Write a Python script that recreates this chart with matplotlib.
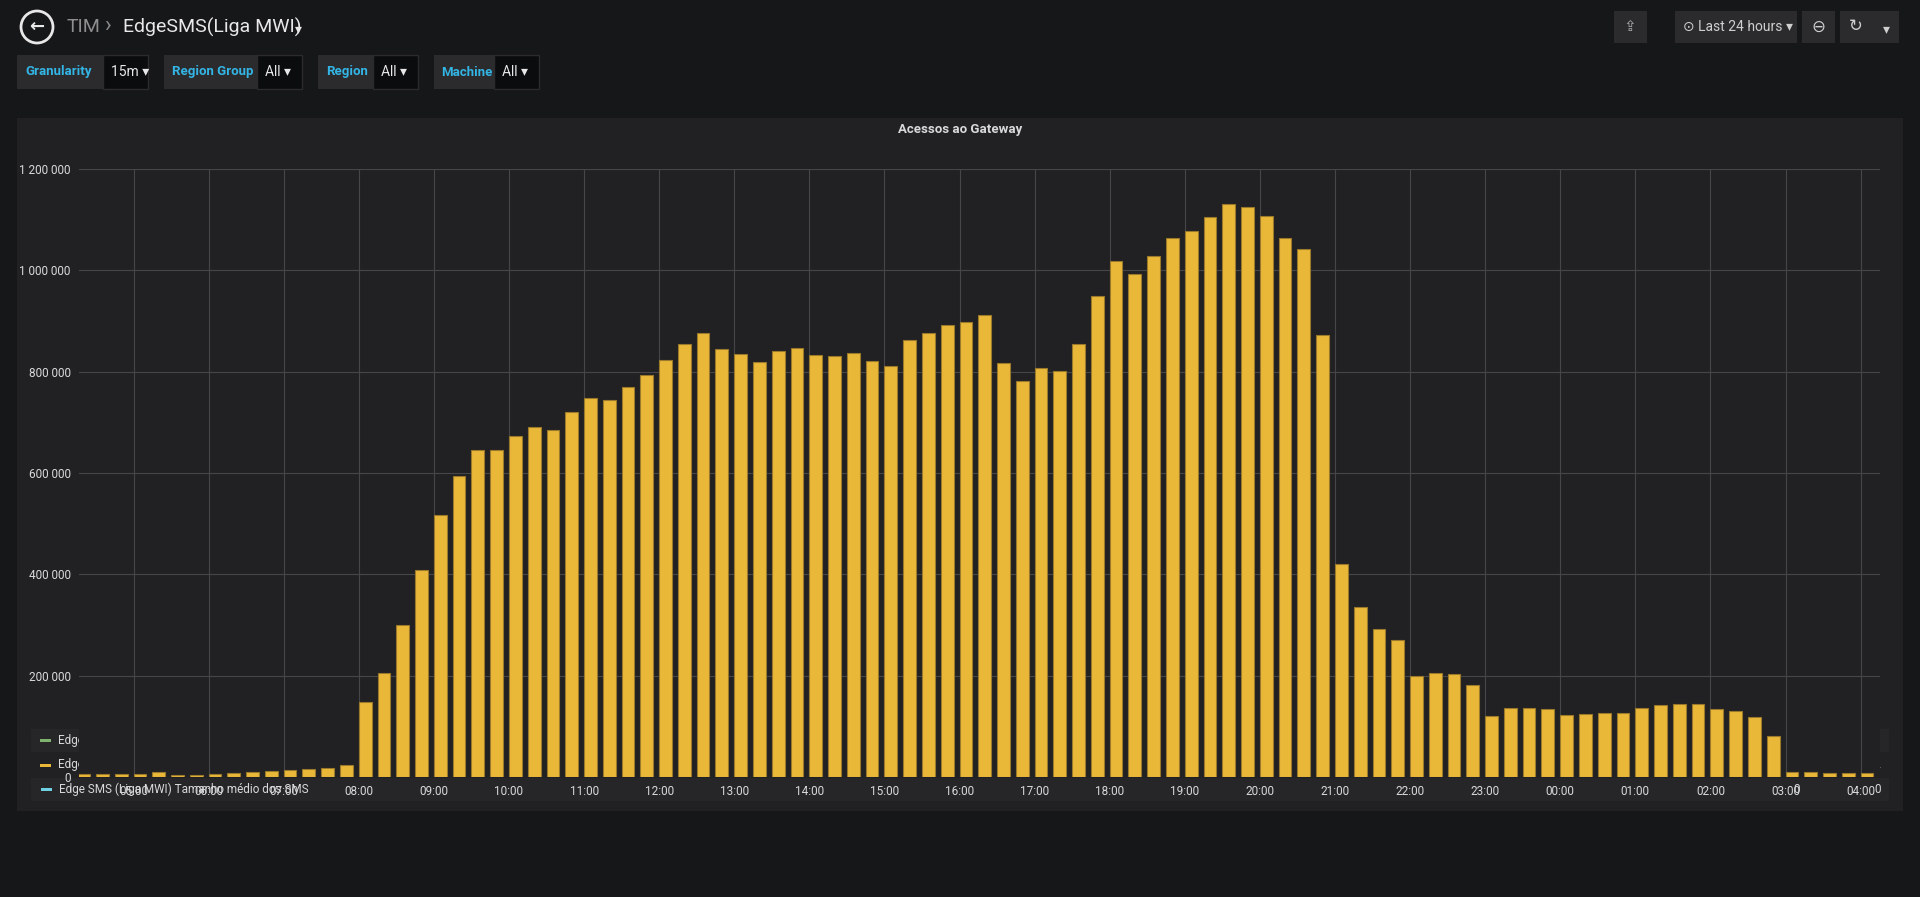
import matplotlib
matplotlib.use("Agg")
import matplotlib.pyplot as plt
from matplotlib.patches import Rectangle, Ellipse
from matplotlib.ticker import FuncFormatter

# ---- data (15-minute buckets, 04:15 .. 04:00 next day) ----
values = [6000, 5000, 6000, 6000, 9000, 4000, 4000, 6000, 8000, 9000, 11000, 13000,
          15000, 18000, 23000, 149000, 205000, 300000, 408000, 518000, 594000, 646000, 646000, 674000,
          690000, 685000, 721000, 748000, 744000, 770000, 793000, 823000, 854000, 876000, 845000, 835000,
          819000, 840000, 846000, 833000, 831000, 836000, 821000, 812000, 863000, 877000, 893000, 898000,
          911000, 818000, 781000, 808000, 801000, 855000, 949000, 1018000, 992000, 1028000, 1063000, 1078000,
          1105000, 1131000, 1125000, 1107000, 1063000, 1042000, 873000, 420000, 335000, 293000, 270000, 200000,
          206000, 203000, 181000, 121000, 136000, 136000, 134000, 122000, 125000, 126000, 126000, 137000,
          143000, 145000, 144000, 135000, 131000, 119000, 80000, 10000, 9000, 7000, 7000, 7000]
start_hour = 4.25
step = 0.25
hour_ticks = list(range(5, 29))
yticks = [0, 200000, 400000, 600000, 800000, 1000000, 1200000]
legend_names = ["Edge SMS (Liga MWI) Segmentos", "Edge SMS (Liga MWI) Operações",
                "Edge SMS (Liga MWI) Tamanho médio dos SMS"]
legend_colors = ["#7eb26d", "#eab839", "#6ed0e0"]
legend_max = ["1 131 043", "1 131 032", "0"]
legend_total = ["46 614 759", "46 614 912", "0"]
variables = [("Granularity", "15m"), ("Region Group", "All"), ("Region", "All"), ("Machine", "All")]

W, H = 1920, 897
plt.rcParams['font.family'] = ['Roboto', 'DejaVu Sans']
fig = plt.figure(figsize=(W / 100, H / 100), dpi=100)
fig.patch.set_facecolor("#161719")

def fx(x): return x / W
def fy(y): return 1 - y / H

def rect(x, y, w, h, color, **kw):
    fig.patches.append(Rectangle((fx(x), fy(y + h)), w / W, h / H, transform=fig.transFigure,
                                 facecolor=color, edgecolor=kw.get("ec", "none"), lw=kw.get("lw", 0)))

# header
fig.patches.append(Ellipse((fx(37), fy(27)), 32 / W, 32 / H, transform=fig.transFigure, facecolor="none",
                           edgecolor="#e8e8e8", lw=2))
fig.text(fx(37), fy(27), "←", color="#e8e8e8", fontsize=13, ha="center", va="center", fontweight="bold")
fig.text(fx(67), fy(27), "TIM", color="#8e8e8e", fontsize=14, va="center")
fig.text(fx(104), fy(27), "›", color="#8e8e8e", fontsize=16, va="center")
fig.text(fx(123), fy(27), "EdgeSMS(Liga MWI)", color="#e8e8e8", fontsize=14, va="center")
fig.text(fx(295), fy(29), "▾", color="#e8e8e8", fontsize=10, va="center")

# top-right buttons
for x0, w in [(1614, 33), (1675, 122), (1802, 33), (1840, 33), (1873, 26)]:
    rect(x0, 11, w, 32, "#2b2b2e")
fig.text(fx(1630), fy(27), "⇪", color="#aaa", fontsize=11, ha="center", va="center")
fig.text(fx(1683), fy(27), "⊙ Last 24 hours ▾", color="#cfcfcf", fontsize=10, va="center")
fig.text(fx(1818), fy(27), "⊖", color="#cfcfcf", fontsize=12, ha="center", va="center")
fig.text(fx(1856), fy(27), "↻", color="#cfcfcf", fontsize=12, ha="center", va="center")
fig.text(fx(1886), fy(29), "▾", color="#cfcfcf", fontsize=10, ha="center", va="center")

# variables
xpos = 17
for name, val in variables:
    lw = 16 + 6.4 * len(name)
    rect(xpos, 55, lw, 34, "#2b2b2e")
    fig.text(fx(xpos + 8), fy(72), name, color="#33b5e5", fontsize=9.5, fontweight="bold", va="center")
    vw = 24 + 7 * len(val)
    rect(xpos + lw, 55, vw, 34, "#0b0c0e", ec="#2b2b2e", lw=1)
    fig.text(fx(xpos + lw + 8), fy(72), val + " ▾", color="#e8e8e8", fontsize=10, va="center")
    xpos += lw + vw + 16

# panel
rect(17, 118, 1886, 693, "#212124")
fig.text(fx(960), fy(130), "Acessos ao Gateway", color="#d8d9da", fontsize=9.5, fontweight="bold",
         ha="center", va="center")

ax = fig.add_axes([fx(79), fy(777), (1880 - 79) / W, (777 - 169) / H])
ax.set_zorder(5)
ax.set_facecolor("#212124")
xs = [start_hour + i * step for i in range(len(values))]
ax.bar(xs, values, width=step * 0.68, align="edge", color="#eab839", edgecolor="#9a7a2a", linewidth=0.8,
       zorder=3)
ax.set_xlim(4.274, 28.258)
ax.set_ylim(0, 1200000)
ax.set_xticks(hour_ticks)
ax.set_xticklabels([f"{h % 24:02d}:00" for h in hour_ticks])
ax.set_yticks(yticks)
ax.yaxis.set_major_formatter(FuncFormatter(lambda v, p: f"{int(v):,}".replace(",", " ")))
ax.grid(True, color="#464649", lw=0.8, zorder=0)
for s in ax.spines.values():
    s.set_visible(False)
ax.tick_params(colors="#d8d9da", labelsize=8.5, length=0, pad=6)

# legend table
fig.text(fx(1800), fy(719), "max", color="#33b5e5", fontsize=8.5, fontweight="bold", ha="right", va="center")
fig.text(fx(1881), fy(719), "total", color="#33b5e5", fontsize=8.5, fontweight="bold", ha="right", va="center")
for i, (n, c, m, t) in enumerate(zip(legend_names, legend_colors, legend_max, legend_total)):
    y = 740 + i * 24.5
    rect(31, y - 11.5, 1858, 23, "#262628" if i % 2 == 0 else "#212124")
    rect(40 + (1 if i == 2 else 0), y - 1, 11, 3, c)
    fig.text(fx(58 + (1 if i == 2 else 0)), fy(y), n, color="#d8d9da", fontsize=8.5, va="center")
    fig.text(fx(1800), fy(y), m, color="#d8d9da", fontsize=8.5, ha="right", va="center")
    fig.text(fx(1881), fy(y), t, color="#d8d9da", fontsize=8.5, ha="right", va="center")

fig.savefig("out.png", dpi=100, facecolor=fig.get_facecolor())
